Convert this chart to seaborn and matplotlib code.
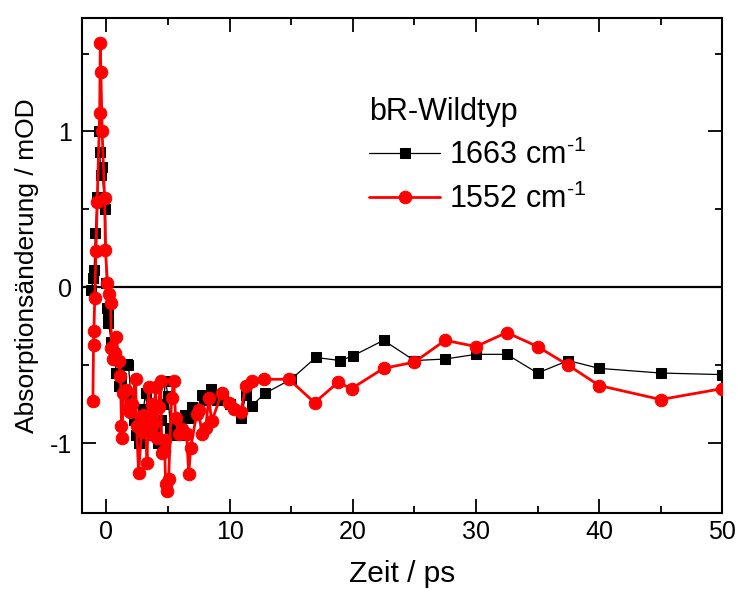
import numpy as np
import pandas as pd
import matplotlib
matplotlib.use("Agg")
import matplotlib.pyplot as plt
import seaborn as sns

# Transient absorption change of bR wild type at two probe frequencies
t_1663 = [-1.22, -1.06, -1.0, -0.9, -0.75, -0.6, -0.55, -0.45, -0.4, -0.08, 0.0, 0.02,
          0.1, 0.15, 0.41, 0.6, 0.8, 0.98, 1.2, 1.63, 1.79, 2.0, 2.2, 2.4, 2.61, 2.8,
          3.0, 3.18, 3.4, 3.6, 3.8, 4.0, 4.2, 4.4, 4.6, 4.8, 5.0, 5.2, 5.4, 5.6, 5.86,
          6.2, 6.4, 6.68, 6.92, 7.3, 7.74, 8.0, 8.47, 9.0, 9.5, 10.0, 10.91, 11.32, 11.81,
          12.87, 15.0, 17.0, 19.0, 20.0, 22.5, 25.0, 27.5, 30.0, 32.5, 35.0, 37.5, 40.0,
          45.0, 50.0]
a_1663 = [-0.02, 0.06, 0.11, 0.35, 0.58, 1.0, 0.87, 0.72, 0.77, 0.5, 0.03, -0.13,
          -0.17, -0.23, -0.35, -0.42, -0.55, -0.63, -0.58, -0.49, -0.5, -0.72, -0.85, -0.95, -1.0, -0.88,
          -0.78, -0.68, -0.85, -0.95, -0.8, -0.9, -1.0, -0.85, -0.75, -0.6, -0.7, -0.9, -0.95, -0.85, -0.87,
          -0.95, -0.82, -0.84, -0.77, -0.8, -0.69, -0.72, -0.65, -0.72, -0.7, -0.75, -0.84, -0.69, -0.76,
          -0.68, -0.59, -0.45, -0.47, -0.44, -0.34, -0.47, -0.46, -0.43, -0.43, -0.55, -0.47, -0.52,
          -0.55, -0.56]

t_1552 = [-1.1, -1.05, -1.02, -0.95, -0.85, -0.75, -0.55, -0.5, -0.45, -0.35, -0.15, -0.08,
          0.08, 0.24, 0.33, 0.41, 0.57, 0.73, 0.81, 1.0, 1.14, 1.22, 1.25, 1.38, 1.55, 1.63,
          1.95, 2.05, 2.36, 2.45, 2.61, 2.85, 2.95, 3.18, 3.3, 3.42, 3.58, 3.66, 3.83, 3.99,
          4.07, 4.23, 4.4, 4.5, 4.64, 4.72, 4.8, 4.89, 5.05, 5.29, 5.46, 5.62, 5.86, 6.11,
          6.51, 6.68, 6.84, 7.33, 7.49, 7.74, 8.06, 8.31, 8.55, 9.36, 9.93, 10.34, 10.91,
          11.32, 11.81, 12.79, 14.82, 16.9, 18.8, 19.9, 22.5, 25.0, 27.5, 30.0, 32.5, 35.0,
          37.5, 40.0, 45.0, 50.0]
a_1552 = [-0.73, -0.37, -0.28, -0.07, 0.23, 0.55, 1.12, 1.57, 1.38, 1.0, 0.57, 0.24,
          0.03, -0.04, -0.1, -0.39, -0.46, -0.42, -0.32, -0.47, -0.57, -0.89, -0.97, -0.68, -0.66, -0.78,
          -0.8, -0.75, -0.59, -0.89, -1.19, -0.93, -0.82, -0.9, -1.13, -0.64, -0.94, -0.75, -0.87, -0.64,
          -0.97, -0.77, -0.6, -1.06, -1.05, -0.98, -1.26, -1.31, -1.23, -0.71, -0.6, -0.84, -0.94, -0.91,
          -0.94, -1.2, -1.03, -0.81, -0.79, -0.94, -0.9, -0.71, -0.86, -0.68, -0.74, -0.78, -0.8,
          -0.63, -0.6, -0.59, -0.59, -0.74, -0.61, -0.65, -0.52, -0.48, -0.34, -0.38, -0.29, -0.38,
          -0.5, -0.63, -0.72, -0.65]

x_ticks = [0, 10, 20, 30, 40, 50]
y_ticks = [-1, 0, 1]

sns.set_style("ticks")
plt.rcParams["font.family"] = ["Liberation Sans", "DejaVu Sans"]
plt.rcParams["mathtext.fontset"] = "custom"
plt.rcParams["mathtext.rm"] = "Liberation Sans"
plt.rcParams["mathtext.it"] = "Liberation Sans"
plt.rcParams["mathtext.bf"] = "Liberation Sans"
plt.rcParams["axes.unicode_minus"] = False
plt.rcParams["text.color"] = "black"
plt.rcParams["axes.labelcolor"] = "black"
plt.rcParams["xtick.color"] = "black"
plt.rcParams["ytick.color"] = "black"

df_a = pd.DataFrame({"t": t_1663, "a": a_1663})
df_b = pd.DataFrame({"t": t_1552, "a": a_1552})

fig = plt.figure(figsize=(7.37, 5.90), dpi=100)
ax = fig.add_axes([0.111, 0.130, 0.869, 0.840])

ax.axhline(0, color="black", lw=1.6, zorder=1)

sns.lineplot(data=df_a, x="t", y="a", ax=ax, estimator=None, sort=False,
             color="black", lw=0.9, marker="s", markersize=7,
             markeredgecolor="black", markerfacecolor="black",
             label="1663 cm$^{\\text{-}1}$", zorder=2)
sns.lineplot(data=df_b, x="t", y="a", ax=ax, estimator=None, sort=False,
             color="#ff0000", lw=2.0, marker="o", markersize=9,
             markeredgecolor="#ff0000", markerfacecolor="#ff0000",
             label="1552 cm$^{\\text{-}1}$", zorder=3)

ax.set_xlim(-2, 50)
ax.set_ylim(-1.45, 1.73)
ax.set_xticks(x_ticks)
ax.set_yticks(y_ticks)
ax.set_xticks(np.arange(5, 50, 10), minor=True)
ax.set_yticks([-0.5, 0.5, 1.5], minor=True)

ax.tick_params(which="both", direction="in", top=True, right=True, width=1.3,
               labelsize=18, colors="black")
ax.tick_params(axis="x", which="major", length=10, pad=5)
ax.tick_params(axis="y", which="major", length=10, pad=7)
ax.tick_params(which="minor", length=5)
for s in ax.spines.values():
    s.set_linewidth(1.5)
    s.set_color("black")

ax.set_xlabel("Zeit / ps", fontsize=21.5, labelpad=11, color="black")
ax.set_ylabel("Absorptionsänderung / mOD", fontsize=19, labelpad=8, color="black")

leg = ax.legend(title="bR-Wildtyp", loc="upper left", bbox_to_anchor=(0.43, 0.865),
                frameon=False, fontsize=22, title_fontsize=22, handlelength=2.3,
                handletextpad=0.3, labelspacing=0.42, borderaxespad=0)
leg._legend_box.align = "left"
for txt in leg.get_texts():
    txt.set_color("black")
leg.get_title().set_color("black")

fig.savefig("out.png", dpi=100)
